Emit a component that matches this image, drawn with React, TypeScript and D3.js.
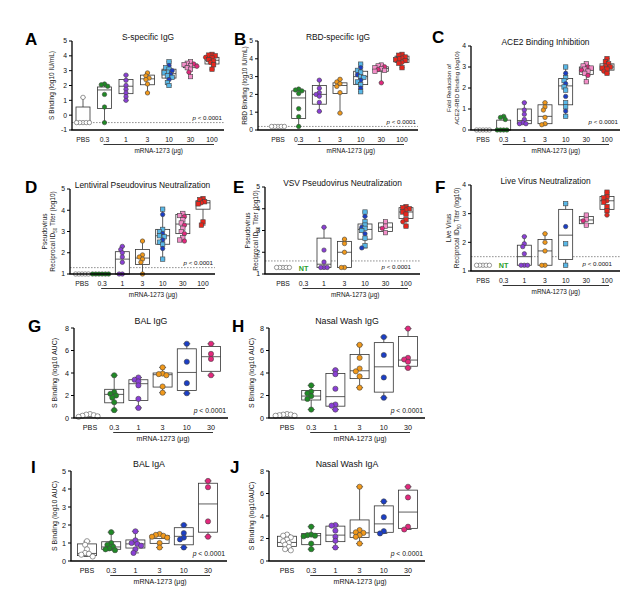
import React from "react";
import * as d3 from "d3";

const FONT = "'Liberation Sans', Arial, Helvetica, sans-serif";

const CATS7 = ["PBS", "0.3", "1", "3", "10", "30", "100"];
const CATS6 = ["PBS", "0.3", "1", "3", "10", "30"];

// ---- A: S-specific IgG
const A_VALS = [
  [1.2, -0.5, -0.5, -0.5, -0.5, -0.5],
  [2.1, 2.05, 1.95, 1.4, 0.55, -0.5],
  [2.7, 2.35, 2.0, 1.75, 1.5, 1.25, 1.0],
  [2.85, 2.65, 2.5, 2.4, 2.1, 1.5],
  [3.6, 3.35, 3.2, 3.1, 3.0, 2.9, 2.85, 2.75, 2.65, 2.55, 2.4, 2.2, 2.0],
  [3.6, 3.5, 3.45, 3.4, 3.35, 3.3, 3.2, 3.1, 2.9, 2.6],
  [4.1, 4.05, 4.0, 3.9, 3.85, 3.75, 3.65, 3.55, 3.4, 3.1],
];
const A_BOX = [[-0.5, -0.5, 0.55], [0.45, 1.7, 1.9], [1.45, 1.95, 2.4], [2.05, 2.45, 2.7], [2.5, 2.8, 3.1], [3.2, 3.35, 3.45], [3.45, 3.7, 3.9]];

// ---- B: RBD-specific IgG
const B_VALS = [
  [0.2, 0.2, 0.2, 0.2, 0.2],
  [2.3, 2.25, 2.2, 2.05, 1.2, 0.75, 0.2],
  [2.8, 2.35, 2.1, 2.0, 1.9, 1.55, 1.05],
  [2.85, 2.7, 2.6, 2.45, 2.1, 0.95],
  [3.7, 3.5, 3.35, 3.25, 3.1, 3.0, 2.95, 2.8, 2.7, 2.55, 2.35, 2.15],
  [3.65, 3.6, 3.55, 3.5, 3.45, 3.4, 3.35, 3.3, 2.65],
  [4.25, 4.2, 4.1, 4.05, 4.0, 3.95, 3.9, 3.8, 3.75, 3.5],
];
const B_BOX = [[0.2, 0.2, 0.2], [0.65, 1.8, 2.2], [1.45, 2.0, 2.5], [2.05, 2.5, 2.65], [2.55, 3.0, 3.3], [3.3, 3.45, 3.55], [3.8, 3.95, 4.15]];

// ---- C: ACE2 Binding Inhibition
const C_VALS = [
  [0, 0, 0, 0, 0],
  [0.65, 0.6, 0.5, 0, 0, 0, 0],
  [1.3, 0.95, 0.75, 0.5, 0.35, 0.3, 0.3],
  [1.3, 1.1, 0.95, 0.6, 0.3, 0.25],
  [3.0, 2.7, 2.5, 2.35, 2.2, 2.05, 1.9, 1.6, 1.3, 1.1, 0.9, 0.65],
  [3.15, 3.05, 3.0, 2.95, 2.9, 2.85, 2.8, 2.7, 2.6, 2.3],
  [3.4, 3.25, 3.15, 3.05, 3.0, 2.95, 2.9, 2.8, 2.7],
];
const C_BOX = [[0, 0, 0], [0, 0, 0.47], [0.3, 0.45, 1.0], [0.3, 0.65, 1.2], [1.2, 2.1, 2.45], [2.65, 2.85, 3.0], [2.85, 3.0, 3.15]];

// ---- D: Lentiviral Pseudovirus Neutralization
const D_VALS = [
  [1, 1, 1, 1, 1],
  [1, 1, 1, 1, 1, 1],
  [2.3, 2.15, 2.0, 1.8, 1.55, 1.0, 1.0],
  [2.55, 1.9, 1.8, 1.7, 1.55, 1.0],
  [4.05, 3.8, 3.1, 3.0, 2.9, 2.8, 2.75, 2.6, 2.5, 2.4, 2.2, 1.7],
  [3.85, 3.75, 3.7, 3.55, 3.4, 3.3, 3.15, 3.0, 2.9, 2.7, 2.6, 2.55],
  [4.55, 4.5, 4.4, 4.35, 4.3, 3.45, 3.3],
];
const D_BOX = [[1, 1, 1], [1, 1, 1], [1.0, 1.7, 2.05], [1.45, 1.75, 2.15], [2.4, 2.8, 3.1], [2.9, 3.35, 3.8], [4.05, 4.35, 4.45]];

// ---- E: VSV Pseudovirus Neutralization (0.3 not tested)
const E_VALS = [
  [1.3, 1.3, 1.3, 1.3, 1.3],
  null,
  [3.15, 2.1, 1.55, 1.3, 1.3, 1.3],
  [2.6, 2.4, 2.0, 1.3, 1.3],
  [3.85, 3.65, 3.4, 3.25, 3.15, 3.1, 3.0, 2.85, 2.65, 2.3, 2.2],
  [3.4, 3.2, 3.1, 2.9],
  [4.1, 4.05, 4.0, 3.95, 3.85, 3.75, 3.5, 3.4, 3.2],
];
const E_BOX = [[1.3, 1.3, 1.3], null, [1.3, 1.45, 2.65], [1.3, 2.0, 2.5], [2.6, 3.05, 3.3], [2.95, 3.15, 3.35], [3.55, 3.85, 4.05]];

// ---- F: Live Virus Neutralization (0.3 not tested)
const F_VALS = [
  [1.2, 1.2, 1.2, 1.2, 1.2],
  null,
  [2.2, 1.95, 1.85, 1.6, 1.2, 1.2, 1.2],
  [2.3, 2.0, 1.7, 1.2, 1.2],
  [3.35, 2.55, 1.95, 1.2],
  [2.95, 2.8, 2.75, 2.6],
  [3.75, 3.6, 3.55, 3.45, 3.4, 3.25, 3.1, 2.95],
];
const F_BOX = [[1.2, 1.2, 1.2], null, [1.2, 1.5, 1.9], [1.2, 1.7, 2.1], [1.4, 2.25, 3.15], [2.65, 2.78, 2.9], [3.15, 3.45, 3.6]];

// ---- G: BAL IgG
const G_VALS = [
  [0.35, 0.3, 0.25, 0.2, 0.15, 0.1],
  [3.8, 2.3, 2.15, 2.0, 1.8, 1.4, 0.7],
  [3.6, 3.4, 3.25, 2.9, 1.7, 0.9],
  [4.5, 3.95, 3.9, 3.8, 2.8, 2.25],
  [6.6, 5.0, 3.1, 2.2],
  [6.6, 5.7, 5.25, 3.8],
];
const G_BOX = [[0.12, 0.2, 0.3], [1.35, 2.1, 2.55], [1.55, 3.05, 3.4], [2.75, 3.85, 4.0], [2.45, 4.05, 6.15], [4.15, 5.45, 6.35]];

// ---- H: Nasal Wash IgG
const H_VALS = [
  [0.35, 0.3, 0.3, 0.25, 0.2, 0.2],
  [2.9, 2.35, 2.2, 1.95, 1.7, 0.75],
  [4.25, 3.9, 2.6, 1.2, 1.1, 0.75],
  [6.5, 5.35, 4.4, 4.15, 3.7, 2.7],
  [7.2, 5.6, 3.6, 1.8],
  [7.95, 5.35, 5.2, 5.0, 4.45],
];
const H_BOX = [[0.2, 0.25, 0.3], [1.6, 1.95, 2.45], [1.05, 1.9, 3.95], [3.5, 4.2, 5.65], [2.3, 4.55, 6.7], [4.6, 5.15, 7.25]];

// ---- I: BAL IgA
const I_VALS = [
  [1.1, 0.9, 0.65, 0.45, 0.4, 0.35, 0.25],
  [1.6, 1.0, 0.9, 0.8, 0.7, 0.65, 0.6],
  [1.65, 1.15, 1.0, 0.95, 0.85, 0.65, 0.45],
  [1.5, 1.45, 1.4, 1.35, 1.3, 1.0, 0.75],
  [2.0, 1.55, 1.3, 1.2, 0.75],
  [4.45, 4.1, 2.2, 1.35],
];
const I_BOX = [[0.3, 0.42, 0.95], [0.65, 0.78, 1.07], [0.72, 0.95, 1.17], [0.98, 1.25, 1.42], [0.9, 1.37, 1.85], [1.6, 3.17, 4.32]];

// ---- J: Nasal Wash IgA
const J_VALS = [
  [2.35, 2.25, 2.1, 1.9, 1.75, 1.6, 1.45, 1.25, 1.05, 0.95],
  [3.05, 2.35, 2.3, 2.25, 2.2, 1.55, 1.05],
  [3.2, 3.15, 2.7, 2.15, 1.8, 1.2],
  [6.6, 2.75, 2.55, 2.5, 2.3, 2.15, 1.55],
  [5.3, 3.9, 2.65, 2.45],
  [6.6, 5.65, 3.05, 2.8],
];
const J_BOX = [[1.3, 1.65, 2.2], [1.45, 2.25, 2.45], [1.72, 2.3, 3.1], [2.1, 2.5, 3.65], [2.55, 3.3, 4.9], [2.9, 4.35, 6.3]];

type Cfg = {
  letter: string; lx: number; ly: number; title: string;
  axisX: number; endX: number; yTop: number; yBot: number;
  domain: [number, number]; ticks: number[]; cats: string[];
  firstX: number; lastX: number;
  vals: (number[] | null)[]; boxes: (number[] | null)[];
  dotted?: number; pY: number; pRight?: number;
  yLabel: string[]; yLabelX: number[]; id50?: boolean; labFs?: number;
  big: boolean;
};

const PANELS: Cfg[] = [
  { letter: "A", lx: 25, ly: 45, title: "S-specific IgG", axisX: 72, endX: 224, yTop: 41, yBot: 130, domain: [-1, 5], ticks: [-1, 0, 1, 2, 3, 4, 5], cats: CATS7, firstX: 83, lastX: 212, vals: A_VALS, boxes: A_BOX, dotted: -0.5, pY: 120, yLabel: ["S Binding (log10 IU/mL)"], yLabelX: [52], big: false },
  { letter: "B", lx: 234, ly: 45, title: "RBD-specific IgG", axisX: 258, endX: 418, yTop: 41, yBot: 130, domain: [0, 5], ticks: [0, 1, 2, 3, 4, 5], cats: CATS7, firstX: 278, lastX: 402, vals: B_VALS, boxes: B_BOX, dotted: 0.2, pY: 124, yLabel: ["RBD Binding (log10 IU/mL)"], yLabelX: [245], big: false },
  { letter: "C", lx: 432, ly: 43, title: "ACE2 Binding Inhibition", axisX: 471, endX: 620, yTop: 46, yBot: 130, domain: [0, 4], ticks: [0, 1, 2, 3, 4], cats: CATS7, firstX: 483, lastX: 607, vals: C_VALS, boxes: C_BOX, pY: 124, yLabel: ["Fold Reduction of", "ACE2-RBD Binding (log10)"], yLabelX: [449, 457], labFs: 6.1, big: false },
  { letter: "D", lx: 25, ly: 193, title: "Lentiviral Pseudovirus Neutralization", axisX: 70, endX: 215, yTop: 189, yBot: 274, domain: [1, 5], ticks: [1, 2, 3, 4, 5], cats: CATS7, firstX: 82, lastX: 203, vals: D_VALS, boxes: D_BOX, dotted: 1.3, pY: 265, yLabel: ["Pseudovirus"], yLabelX: [45, 53], id50: true, big: false },
  { letter: "E", lx: 233, ly: 193, title: "VSV Pseudovirus Neutralization", axisX: 265, endX: 420, yTop: 187, yBot: 274, domain: [1, 5], ticks: [1, 2, 3, 4, 5], cats: CATS7, firstX: 283, lastX: 406, vals: E_VALS, boxes: E_BOX, dotted: 1.6, pY: 269, pRight: 411, yLabel: ["Pseudovirus"], yLabelX: [248, 256], id50: true, big: false },
  { letter: "F", lx: 435, ly: 193, title: "Live Virus Neutralization", axisX: 471, endX: 620, yTop: 185, yBot: 271, domain: [1, 4], ticks: [1, 2, 3, 4], cats: CATS7, firstX: 483, lastX: 607, vals: F_VALS, boxes: F_BOX, dotted: 1.5, pY: 266, pRight: 612, yLabel: ["Live Virus"], yLabelX: [449, 457], id50: true, big: false },
  { letter: "G", lx: 28, ly: 332, title: "BAL IgG", axisX: 74, endX: 228, yTop: 328, yBot: 418, domain: [0, 8], ticks: [0, 2, 4, 6, 8], cats: CATS6, firstX: 90, lastX: 211, vals: G_VALS, boxes: G_BOX, pY: 413, yLabel: ["S Binding (log10 AUC)"], yLabelX: [55], big: true },
  { letter: "H", lx: 232, ly: 332, title: "Nasal Wash IgG", axisX: 269, endX: 425, yTop: 328, yBot: 418, domain: [0, 8], ticks: [0, 2, 4, 6, 8], cats: CATS6, firstX: 287, lastX: 408, vals: H_VALS, boxes: H_BOX, pY: 413, yLabel: ["S Binding (log10 AUC)"], yLabelX: [252], big: true },
  { letter: "I", lx: 31, ly: 473, title: "BAL IgA", axisX: 71, endX: 227, yTop: 471, yBot: 561, domain: [0, 5], ticks: [0, 1, 2, 3, 4, 5], cats: CATS6, firstX: 87, lastX: 208, vals: I_VALS, boxes: I_BOX, pY: 556, yLabel: ["S Binding (log10 AUC)"], yLabelX: [55], big: true },
  { letter: "J", lx: 230, ly: 473, title: "Nasal Wash IgA", axisX: 269, endX: 425, yTop: 471, yBot: 561, domain: [0, 8], ticks: [0, 2, 4, 6, 8], cats: CATS6, firstX: 287, lastX: 408, vals: J_VALS, boxes: J_BOX, pY: 556, yLabel: ["S Binding (log10AUC)"], yLabelX: [252], big: true },
];

const COL = {
  pbs: "#ffffff",
  green: "#1f8a25",
  purple: "#8a3fd6",
  orange: "#f2991a",
  blue: "#1b3ec6",
  cyan: "#58b8e8",
  pinkSq: "#f38ec8",
  magenta: "#e3287d",
  red: "#e8261c",
};

function markStyle(cat: number, i: number, big: boolean): { shape: "c" | "s"; fill: string } {
  switch (cat) {
    case 0: return { shape: "c", fill: COL.pbs };
    case 1: return { shape: "c", fill: COL.green };
    case 2: return { shape: "c", fill: COL.purple };
    case 3: return { shape: "c", fill: COL.orange };
    case 4:
      if (big) return { shape: "c", fill: COL.blue };
      return i % 3 === 1 ? { shape: "c", fill: COL.blue } : { shape: "s", fill: COL.cyan };
    case 5:
      if (big) return { shape: "c", fill: COL.magenta };
      return i % 3 === 2 ? { shape: "c", fill: COL.magenta } : { shape: "s", fill: COL.pinkSq };
    default:
      return i % 4 === 3 ? { shape: "c", fill: COL.red } : { shape: "s", fill: COL.red };
  }
}

// simple deterministic beeswarm: points may overlap partially, as in the original plots
function swarm(vals: number[], y: (v: number) => number, r: number) {
  const order = vals.map((v, i) => ({ v, i })).sort((a, b) => b.v - a.v);
  const placed: { x: number; y: number }[] = [];
  const minD = 1.45 * r;
  const step = 0.73 * r;
  const out: { v: number; i: number; dx: number }[] = [];
  const cands = [0, -1, 1, -2, 2, -3, 3, -4, 4, -5, 5, -6, 6];
  for (const o of order) {
    const py = y(o.v);
    let chosen = 0;
    for (const k of cands) {
      const dx = k * step;
      if (placed.every((p) => Math.hypot(p.x - dx, p.y - py) >= minD)) { chosen = dx; break; }
    }
    placed.push({ x: chosen, y: py });
    out.push({ v: o.v, i: o.i, dx: chosen });
  }
  return out;
}

function Panel({ c }: { c: Cfg }) {
  const y = d3.scaleLinear().domain(c.domain).range([c.yBot, c.yTop]);
  const x = d3.scalePoint<string>().domain(c.cats).range([c.firstX, c.lastX]);
  const big = c.big;
  const r = big ? 2.6 : 2.2;
  const boxW = big ? 19 : 14;
  const capW = big ? 7 : 5;
  const tickFs = big ? 7.2 : 6.8;
  const titleFs = big ? 8.8 : 8.4;
  const midX = (c.axisX + c.endX) / 2;
  const yMid = (c.yTop + c.yBot) / 2;
  const ulStart = (x(c.cats[1]) as number) - 1;
  const ulEnd = (x(c.cats[c.cats.length - 1]) as number) + 2;
  const labFs = c.labFs ?? (big ? 7 : 6.5);

  return (
    <g fontFamily={FONT}>
      <text x={c.lx} y={c.ly} fontSize={17} fontWeight="bold" fill="#000">{c.letter}</text>
      <text x={midX} y={c.yTop - (big ? 4 : 1)} textAnchor="middle" fontSize={titleFs} fill="#111">{c.title}</text>

      {/* y label */}
      {c.yLabel.map((t, k) => (
        <text key={k} transform={`translate(${c.yLabelX[k]},${yMid}) rotate(-90)`} dy="0.35em" textAnchor="middle" fontSize={labFs} fill="#222">{t}</text>
      ))}
      {c.id50 && (
        <text transform={`translate(${c.yLabelX[1]},${yMid}) rotate(-90)`} dy="0.35em" textAnchor="middle" fontSize={labFs} fill="#222">
          Reciprocal ID<tspan fontSize={labFs * 0.7} dy={1.5}>50</tspan><tspan dy={-1.5}> Titer (log10)</tspan>
        </text>
      )}

      {/* dotted line */}
      {c.dotted !== undefined && (
        <line x1={c.axisX} x2={c.endX} y1={y(c.dotted)} y2={y(c.dotted)} stroke="#777" strokeWidth={0.8} strokeDasharray="1.6,1.4" />
      )}

      {/* boxes */}
      {c.vals.map((vals, ci) => {
        const b = c.boxes[ci];
        if (!vals || !b) return null;
        const cx = x(c.cats[ci]) as number;
        const mn = d3.min(vals) as number;
        const mx = d3.max(vals) as number;
        return (
          <g key={"b" + ci} stroke="#333" strokeWidth={0.8} fill="none">
            <line x1={cx} x2={cx} y1={y(mx)} y2={y(b[2])} />
            <line x1={cx} x2={cx} y1={y(b[0])} y2={y(mn)} />
            <line x1={cx - capW / 2} x2={cx + capW / 2} y1={y(mx)} y2={y(mx)} />
            <line x1={cx - capW / 2} x2={cx + capW / 2} y1={y(mn)} y2={y(mn)} />
            <rect x={cx - boxW / 2} width={boxW} y={y(b[2])} height={Math.max(0.01, y(b[0]) - y(b[2]))} fill="#fff" />
            <line x1={cx - boxW / 2} x2={cx + boxW / 2} y1={y(b[1])} y2={y(b[1])} />
          </g>
        );
      })}

      {/* points */}
      {c.vals.map((vals, ci) => {
        if (!vals) return null;
        const cx = x(c.cats[ci]) as number;
        return (
          <g key={"p" + ci}>
            {swarm(vals, y, r).map((p) => {
              const st = markStyle(ci, p.i, big);
              const px = cx + p.dx;
              const py = y(p.v);
              return st.shape === "c" ? (
                <circle key={p.i} cx={px} cy={py} r={r} fill={st.fill} stroke={ci === 0 ? "#555" : "#444"} strokeWidth={0.6} />
              ) : (
                <rect key={p.i} x={px - r} y={py - r} width={2 * r} height={2 * r} fill={st.fill} stroke="#444" strokeWidth={0.6} />
              );
            })}
          </g>
        );
      })}

      {/* NT labels */}
      {c.vals.map((vals, ci) =>
        vals ? null : (
          <text key={"nt" + ci} x={x(c.cats[ci]) as number} y={c.yBot - 3} textAnchor="middle" fontSize={7.2} fontWeight="bold" fill="#2ba02b">NT</text>
        )
      )}

      {/* axes */}
      <line x1={c.axisX} x2={c.axisX} y1={c.yTop} y2={c.yBot} stroke="#000" strokeWidth={1.3} />
      <line x1={c.axisX - 0.6} x2={c.endX} y1={c.yBot} y2={c.yBot} stroke="#000" strokeWidth={1.4} />
      {c.ticks.map((t) => (
        <g key={"t" + t}>
          <line x1={c.axisX - 3} x2={c.axisX} y1={y(t)} y2={y(t)} stroke="#000" strokeWidth={1} />
          <text x={c.axisX - 5} y={y(t)} dy="0.35em" textAnchor="end" fontSize={tickFs} fill="#111">{t}</text>
        </g>
      ))}
      {c.cats.map((cat) => (
        <text key={"x" + cat} x={x(cat) as number} y={c.yBot + 12} textAnchor="middle" fontSize={tickFs} fill="#111">{cat}</text>
      ))}
      <line x1={ulStart} x2={ulEnd} y1={c.yBot + 14.5} y2={c.yBot + 14.5} stroke="#000" strokeWidth={0.8} />
      <text x={(ulStart + ulEnd) / 2} y={c.yBot + 23} textAnchor="middle" fontSize={big ? 7 : 6.4} fill="#111">mRNA-1273 (μg)</text>

      <text x={c.pRight ?? c.endX - 2} y={c.pY} textAnchor="end" fontSize={big ? 6.8 : 6.2} fill="#111">
        <tspan fontStyle="italic">p</tspan> &lt; 0.0001
      </text>
    </g>
  );
}

export default function App() {
  return (
    <svg width={641} height={602} viewBox="0 0 641 602" style={{ display: "block", position: "absolute", left: 0, top: 0, background: "#fff" }}>
      <rect x={0} y={0} width={641} height={602} fill="#fff" />
      {PANELS.map((c) => (
        <Panel key={c.letter} c={c} />
      ))}
    </svg>
  );
}
